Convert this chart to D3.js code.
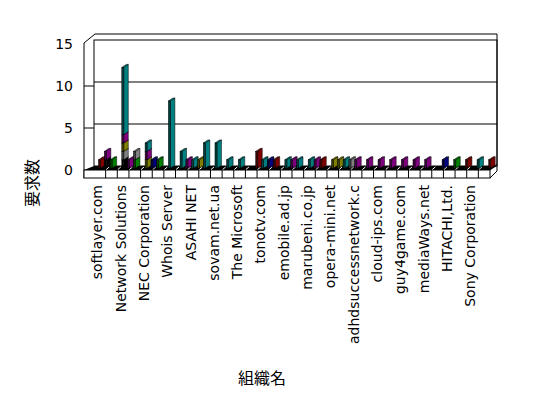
<!DOCTYPE html>
<html><head><meta charset="utf-8">
<script src="https://cdn.jsdelivr.net/npm/d3@7/dist/d3.min.js"></script>
<style>body{margin:0;background:#fff}svg{display:block}</style>
</head><body><svg id="c" width="548" height="398"></svg>
<script>
const categories = [
 "softlayer.com","","","","Network Solutions","","","","NEC Corporation","","","",
 "Whois Server","","","","ASAHI NET","","","","sovam.net.ua","","","",
 "The Microsoft","","","","tonotv.com","","","","emobile.ad.jp","","","",
 "marubeni.co.jp","","","","opera-mini.net","","","","adhdsuccessnetwork.c","","","",
 "cloud-ips.com","","","","guy4game.com","","","","mediaWays.net","","","",
 "HITACHI,Ltd.","","","","Sony Corporation","","",""];
const seriesNames = ["s1","s2","s3","s4","s5","s6","s7","s8"];
const seriesColors = ["#000000","#800000","#008000","#000080","#808080","#808000","#800080","#008080"];
const s1 = [0,1,0,0,1,0,0,0,0,0, 0,0,0,0,0,0,0,0,0,0, 0,0,0,0,0,0,0,0,0,0, 0,0,0,0,0,0,0,0,0,0, 0,0,0,0,0,0,0,0,0,0, 0,0,0,0,0,0,0,0,0,0, 0,0,0,0,0,0,0,0];
const s2 = [1,0,0,0,0,0,0,0,0,0, 0,0,0,0,0,0,0,0,0,0, 0,0,0,0,0,0,0,2,0,0, 1,0,0,0,0,0,0,0,1,0, 0,0,0,0,0,0,0,0,0,0, 0,0,0,0,0,0,0,0,0,0, 0,0,0,1,0,0,0,1];
const s3 = [0,0,1,0,0,0,1,0,0,0, 1,0,0,0,0,0,0,0,0,0, 0,0,0,0,0,0,0,0,0,0, 0,0,0,0,0,0,0,0,0,0, 0,0,0,0,0,0,0,0,0,0, 0,0,0,0,0,0,0,0,0,0, 0,1,0,0,0,0,0,0];
const s4 = [0,0,0,0,0,0,0,0,0,1, 0,0,0,0,0,0,0,0,0,0, 0,0,0,0,0,0,0,0,0,1, 0,0,0,0,0,0,0,0,0,0, 0,0,0,0,0,0,0,0,0,0, 0,0,0,0,0,0,0,0,0,1, 0,0,0,0,0,0,0,0];
const s5 = [0,0,0,0,1,0,1,0,0,0, 0,0,0,0,0,0,0,0,0,0, 0,0,0,0,0,0,0,0,0,0, 0,0,0,0,0,0,0,0,0,0, 0,0,0,1,0,0,0,0,0,0, 0,0,0,0,0,0,0,0,0,0, 0,0,0,0,0,0,0,0];
const s6 = [0,0,0,0,1,0,0,0,1,0, 0,0,0,0,0,0,0,1,0,0, 0,0,0,0,0,0,0,0,0,0, 0,0,0,0,0,0,0,0,0,0, 1,1,0,0,0,0,0,0,0,0, 0,0,0,0,0,0,0,0,0,0, 0,0,0,0,0,0,0,0];
const s7 = [0,1,0,0,1,1,0,0,1,0, 0,0,0,0,0,1,0,0,0,0, 0,0,0,0,0,0,0,0,0,0, 0,0,0,1,0,0,0,1,0,0, 0,0,0,0,1,0,1,0,1,0, 1,0,1,0,1,0,1,0,0,0, 0,0,0,0,0,0,0,0];
const s8 = [0,0,0,0,8,0,0,0,1,0, 0,0,8,0,2,0,1,0,3,0, 3,0,1,0,1,0,0,0,1,0, 0,0,1,0,1,0,1,0,0,0, 0,0,1,0,0,0,0,0,0,0, 0,0,0,0,0,0,0,0,0,0, 0,0,0,0,0,1,0,0];
const seriesValues = [s1,s2,s3,s4,s5,s6,s7,s8];
const yTicks = [0,5,10,15];
const yTitle = "要求数";
const xTitle = "組織名";

const svg = d3.select("#c");
const font = "'DejaVu Sans', sans-serif";
const x = d3.scaleBand().domain(d3.range(categories.length)).range([94, 490]).padding(0);
const yF = d3.scaleLinear().domain([0, 15]).range([170, 44]);
const back = {dx: 10, dy: -4};
const yB = v => yF(v) + back.dy;
const wallRight = 497;

// back wall
svg.append("rect").attr("x", 94).attr("y", yB(15)).attr("width", wallRight - 94).attr("height", yB(0) - yB(15))
  .attr("fill", "#fff").attr("stroke", "#000");
svg.selectAll(".grid").data(yTicks.filter(v => v > 0 && v < 15)).join("line")
  .attr("x1", 94).attr("x2", wallRight).attr("y1", d => yB(d)).attr("y2", d => yB(d)).attr("stroke", "#000");
// outer frame (wall thickness)
svg.append("path").attr("fill", "none").attr("stroke", "#000")
  .attr("d", `M84,178 L84,${yF(15)-1} L95,34 L${wallRight},34 L${wallRight},${yB(0)-2} L490,170`);
svg.append("path").attr("fill", "none").attr("stroke", "#000")
  .attr("d", `M490,178 L${wallRight},171 L${wallRight},${yB(0)-2}`);
// left wall ticks
svg.selectAll(".tk").data(yTicks.filter(v => v > 0 && v < 15)).join("line")
  .attr("x1", 84).attr("x2", 94).attr("y1", d => yF(d)).attr("y2", d => yF(d)).attr("stroke", "#000");
// floor top (dark)
svg.append("path").attr("fill", "#000")
  .attr("d", `M84,170 L490,170 L${wallRight},${yB(0)} L94,${yB(0)} Z`);
// floor front face
svg.append("rect").attr("x", 84).attr("y", 170).attr("width", 406).attr("height", 8)
  .attr("fill", "#fff").attr("stroke", "#000");
const dividers = d3.range(2, categories.length, 2).map(i => x(i));
svg.selectAll(".dv").data(dividers).join("line")
  .attr("x1", d => d).attr("x2", d => d).attr("y1", 170).attr("y2", 178).attr("stroke", "#000");
svg.selectAll(".dw").data(dividers).join("line")
  .attr("x1", d => d + 0.5).attr("x2", d => d + 3.5).attr("y1", 169.5).attr("y2", 167).attr("stroke", "#fff");

// bars (3D stacked columns)
const barShift = {dx: 4.5, dy: -1.8};
const fw = 2, sdx = 4.5, sdy = -3;
const yBar = v => yF(v) + barShift.dy;
const gBars = svg.append("g").attr("stroke", "#000").attr("stroke-width", 0.5);
categories.forEach((c, i) => {
  let cum = 0;
  seriesValues.forEach((vals, s) => {
    const v = vals[i];
    if (!v) return;
    const x0 = x(i) + barShift.dx;
    const yb = yBar(cum), yt = yBar(cum + v);
    cum += v;
    const col = seriesColors[s];
    gBars.append("path").attr("fill", col)
      .attr("d", `M${x0+fw},${yb} L${x0+fw+sdx},${yb+sdy} L${x0+fw+sdx},${yt+sdy} L${x0+fw},${yt} Z`);
    gBars.append("path").attr("fill", col)
      .attr("d", `M${x0},${yt} L${x0+fw},${yt} L${x0+fw+sdx},${yt+sdy} L${x0+sdx},${yt+sdy} Z`);
    gBars.append("rect").attr("x", x0).attr("y", yt).attr("width", fw).attr("height", yb - yt)
      .attr("fill", d3.color(col).darker(2).formatHex());
  });
});

// y tick labels
svg.selectAll(".yl").data(yTicks).join("text")
  .attr("x", 73).attr("y", d => yF(d)).attr("text-anchor", "end").attr("dominant-baseline", "central")
  .attr("font-family", font).attr("font-size", 14).text(d => d);
// category labels (every 4th)
svg.selectAll(".xl").data(categories.map((c, i) => ({c, i})).filter(d => d.c !== ""))
  .join("text")
  .attr("transform", d => `translate(${x(d.i) + x.bandwidth()/2 + 0.5},185) rotate(-90)`)
  .attr("text-anchor", "end").attr("dominant-baseline", "central")
  .attr("font-family", font).attr("font-size", 14).text(d => d.c);
// titles
svg.append("text").attr("transform", "translate(31,183) rotate(-90)").attr("text-anchor", "middle")
  .attr("dominant-baseline", "central").attr("font-family", "'Noto Sans CJK JP', sans-serif").attr("font-size", 16).text(yTitle);
svg.append("text").attr("x", 262).attr("y", 377).attr("text-anchor", "middle")
  .attr("dominant-baseline", "central").attr("font-family", "'Noto Sans CJK JP', sans-serif").attr("font-size", 16).text(xTitle);
</script></body></html>
